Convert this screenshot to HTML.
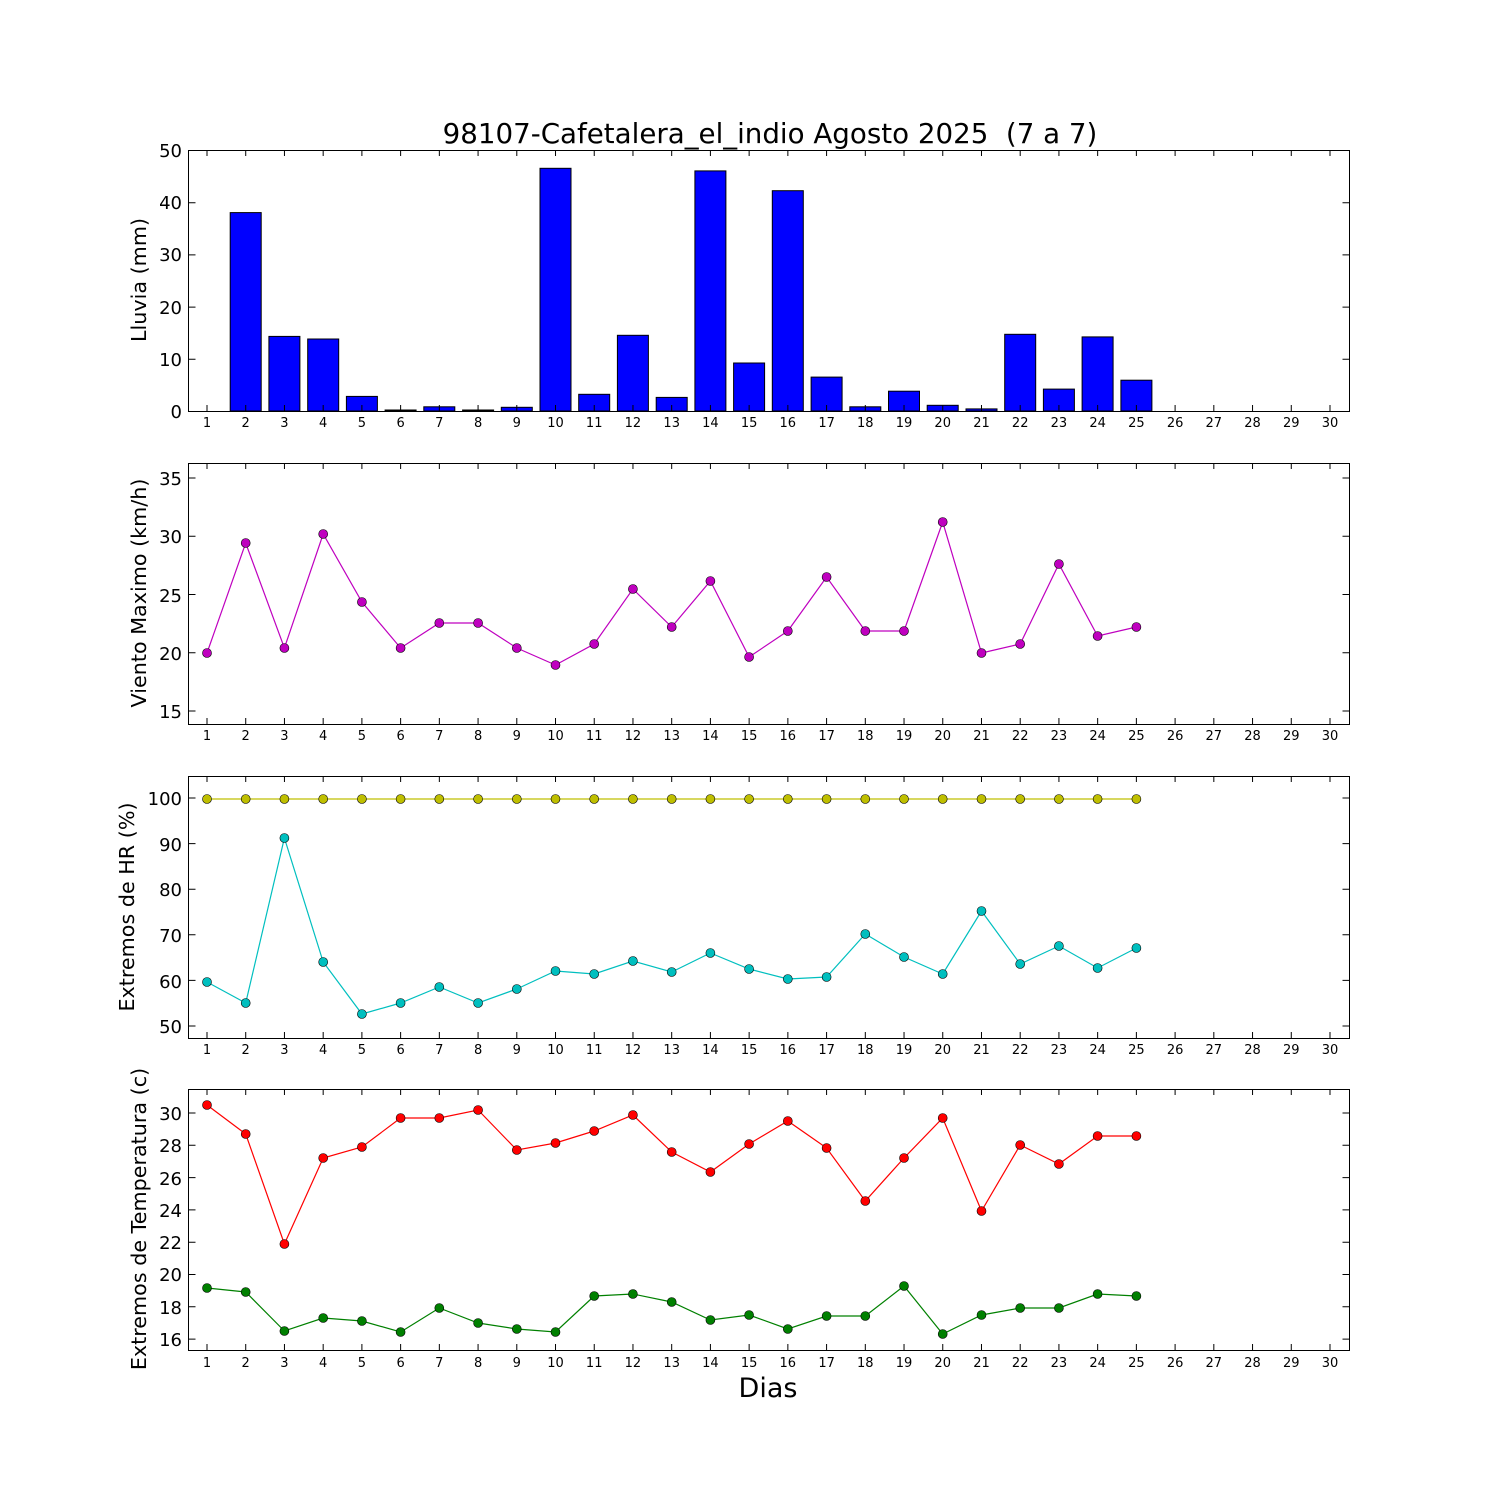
<!DOCTYPE html>
<html><head><meta charset="utf-8"><style>body{margin:0;background:#fff}svg{display:block;font-family:"DejaVu Sans","Liberation Sans",sans-serif}</style></head><body>
<svg width="1500" height="1500" viewBox="0 0 1500 1500" xmlns="http://www.w3.org/2000/svg">
<defs>
<marker id="mm" markerUnits="userSpaceOnUse" markerWidth="12" markerHeight="12" refX="6" refY="6"><circle cx="6" cy="6" r="4.5" fill="#bf00bf" stroke="#000" stroke-width="0.6"/></marker>
<marker id="my" markerUnits="userSpaceOnUse" markerWidth="12" markerHeight="12" refX="6" refY="6"><circle cx="6" cy="6" r="4.5" fill="#bfbf00" stroke="#000" stroke-width="0.6"/></marker>
<marker id="mc" markerUnits="userSpaceOnUse" markerWidth="12" markerHeight="12" refX="6" refY="6"><circle cx="6" cy="6" r="4.5" fill="#00bfbf" stroke="#000" stroke-width="0.6"/></marker>
<marker id="mr" markerUnits="userSpaceOnUse" markerWidth="12" markerHeight="12" refX="6" refY="6"><circle cx="6" cy="6" r="4.5" fill="#ff0000" stroke="#000" stroke-width="0.6"/></marker>
<marker id="mg" markerUnits="userSpaceOnUse" markerWidth="12" markerHeight="12" refX="6" refY="6"><circle cx="6" cy="6" r="4.5" fill="#008000" stroke="#000" stroke-width="0.6"/></marker>
</defs>
<text x="770" y="143" font-size="27.7" text-anchor="middle">98107-Cafetalera_el_indio Agosto 2025 &#160;(7 a 7)</text>

<g fill="#0000ff" stroke="#000" stroke-width="1">
<rect x="191.5" y="411" width="31" height="0"/>
<rect x="230.2" y="212.6" width="31" height="198.4"/>
<rect x="268.9" y="336.4" width="31" height="74.6"/>
<rect x="307.7" y="339" width="31" height="72"/>
<rect x="346.4" y="396.4" width="31" height="14.6"/>
<rect x="385.1" y="410" width="31" height="1"/>
<rect x="423.8" y="406.8" width="31" height="4.2"/>
<rect x="462.6" y="410" width="31" height="1"/>
<rect x="501.3" y="407.3" width="31" height="3.7"/>
<rect x="540" y="168.3" width="31" height="242.7"/>
<rect x="578.7" y="394.3" width="31" height="16.7"/>
<rect x="617.4" y="335.3" width="31" height="75.7"/>
<rect x="656.2" y="397.4" width="31" height="13.6"/>
<rect x="694.9" y="170.9" width="31" height="240.1"/>
<rect x="733.6" y="363" width="31" height="48"/>
<rect x="772.3" y="190.7" width="31" height="220.3"/>
<rect x="811.1" y="377.1" width="31" height="33.9"/>
<rect x="849.8" y="406.8" width="31" height="4.2"/>
<rect x="888.5" y="391.2" width="31" height="19.8"/>
<rect x="927.2" y="405.3" width="31" height="5.7"/>
<rect x="966" y="408.9" width="31" height="2.1"/>
<rect x="1004.7" y="334.3" width="31" height="76.7"/>
<rect x="1043.4" y="389.1" width="31" height="21.9"/>
<rect x="1082.1" y="336.9" width="31" height="74.1"/>
<rect x="1120.9" y="380.2" width="31" height="30.8"/>
</g>

<polyline fill="none" stroke="#bf00bf" stroke-width="1.2" marker-start="url(#mm)" marker-mid="url(#mm)" marker-end="url(#mm)" points="207,653 245.7,543 284.4,648 323.2,534 361.9,602 400.6,648 439.3,623 478.1,623 516.8,648 555.5,665 594.2,644 632.9,589 671.7,627 710.4,581 749.1,657 787.8,631 826.6,577 865.3,631 904,631 942.7,522 981.5,653 1020.2,644 1058.9,564 1097.6,636 1136.4,627"/>

<polyline fill="none" stroke="#bfbf00" stroke-width="1.2" marker-start="url(#my)" marker-mid="url(#my)" marker-end="url(#my)" points="207,799 245.7,799 284.4,799 323.2,799 361.9,799 400.6,799 439.3,799 478.1,799 516.8,799 555.5,799 594.2,799 632.9,799 671.7,799 710.4,799 749.1,799 787.8,799 826.6,799 865.3,799 904,799 942.7,799 981.5,799 1020.2,799 1058.9,799 1097.6,799 1136.4,799"/>
<polyline fill="none" stroke="#00bfbf" stroke-width="1.2" marker-start="url(#mc)" marker-mid="url(#mc)" marker-end="url(#mc)" points="207,982 245.7,1003 284.4,838 323.2,962 361.9,1014 400.6,1003 439.3,987 478.1,1003 516.8,989 555.5,971 594.2,974 632.9,961 671.7,972 710.4,953 749.1,969 787.8,979 826.6,977 865.3,934 904,957 942.7,974 981.5,911 1020.2,964 1058.9,946 1097.6,968 1136.4,948"/>

<polyline fill="none" stroke="#ff0000" stroke-width="1.2" marker-start="url(#mr)" marker-mid="url(#mr)" marker-end="url(#mr)" points="207,1105 245.7,1134 284.4,1244 323.2,1158 361.9,1147 400.6,1118 439.3,1118 478.1,1110 516.8,1150 555.5,1143 594.2,1131 632.9,1115 671.7,1152 710.4,1172 749.1,1144 787.8,1121 826.6,1148 865.3,1201 904,1158 942.7,1118 981.5,1211 1020.2,1145 1058.9,1164 1097.6,1136 1136.4,1136"/>
<polyline fill="none" stroke="#008000" stroke-width="1.2" marker-start="url(#mg)" marker-mid="url(#mg)" marker-end="url(#mg)" points="207,1288 245.7,1292 284.4,1331 323.2,1318 361.9,1321 400.6,1332 439.3,1308 478.1,1323 516.8,1329 555.5,1332 594.2,1296 632.9,1294 671.7,1302 710.4,1320 749.1,1315 787.8,1329 826.6,1316 865.3,1316 904,1286 942.7,1334 981.5,1315 1020.2,1308 1058.9,1308 1097.6,1294 1136.4,1296"/>

<g fill="none" stroke="#000">
<rect x="188.5" y="150.5" width="1161" height="261"/>
<rect x="188.5" y="463.5" width="1161" height="261"/>
<rect x="188.5" y="776.5" width="1161" height="262"/>
<rect x="188.5" y="1089.5" width="1161" height="261"/>
<g stroke-width="6" stroke-dasharray="1 37.724">
<line x1="206.5" y1="408" x2="1331" y2="408"/><line x1="206.5" y1="153" x2="1331" y2="153"/>
<line x1="206.5" y1="721" x2="1331" y2="721"/><line x1="206.5" y1="466" x2="1331" y2="466"/>
<line x1="206.5" y1="1035" x2="1331" y2="1035"/><line x1="206.5" y1="779" x2="1331" y2="779"/>
<line x1="206.5" y1="1347" x2="1331" y2="1347"/><line x1="206.5" y1="1092" x2="1331" y2="1092"/>
</g>
<g stroke-width="7">
<line x1="192" y1="150" x2="192" y2="412" stroke-dasharray="1 51.2"/><line x1="1346" y1="150" x2="1346" y2="412" stroke-dasharray="1 51.2"/>
<line x1="192" y1="477.5" x2="192" y2="712" stroke-dasharray="1 57.25"/><line x1="1346" y1="477.5" x2="1346" y2="712" stroke-dasharray="1 57.25"/>
<line x1="192" y1="797.5" x2="192" y2="1027" stroke-dasharray="1 44.6"/><line x1="1346" y1="797.5" x2="1346" y2="1027" stroke-dasharray="1 44.6"/>
<line x1="192" y1="1112.5" x2="192" y2="1340" stroke-dasharray="1 31.3"/><line x1="1346" y1="1112.5" x2="1346" y2="1340" stroke-dasharray="1 31.3"/>
</g>
</g>

<g font-size="18" text-anchor="end">
<text x="182" y="418">0</text><text x="182" y="366">10</text><text x="182" y="314">20</text><text x="182" y="261">30</text><text x="182" y="209">40</text><text x="182" y="157">50</text>
<text x="182" y="718">15</text><text x="182" y="660">20</text><text x="182" y="602">25</text><text x="182" y="543">30</text><text x="182" y="485">35</text>
<text x="182" y="1033">50</text><text x="182" y="988">60</text><text x="182" y="942">70</text><text x="182" y="896">80</text><text x="182" y="851">90</text><text x="182" y="805">100</text>
<text x="182" y="1346">16</text><text x="182" y="1314">18</text><text x="182" y="1281">20</text><text x="182" y="1249">22</text><text x="182" y="1217">24</text><text x="182" y="1185">26</text><text x="182" y="1152">28</text><text x="182" y="1120">30</text>
</g>

<g font-size="13" text-anchor="middle">
<text y="427"><tspan x="207">1</tspan><tspan x="245.7">2</tspan><tspan x="284.4">3</tspan><tspan x="323.2">4</tspan><tspan x="361.9">5</tspan><tspan x="400.6">6</tspan><tspan x="439.3">7</tspan><tspan x="478.1">8</tspan><tspan x="516.8">9</tspan><tspan x="555.5">10</tspan><tspan x="594.2">11</tspan><tspan x="632.9">12</tspan><tspan x="671.7">13</tspan><tspan x="710.4">14</tspan><tspan x="749.1">15</tspan><tspan x="787.8">16</tspan><tspan x="826.6">17</tspan><tspan x="865.3">18</tspan><tspan x="904">19</tspan><tspan x="942.7">20</tspan><tspan x="981.5">21</tspan><tspan x="1020.2">22</tspan><tspan x="1058.9">23</tspan><tspan x="1097.6">24</tspan><tspan x="1136.4">25</tspan><tspan x="1175.1">26</tspan><tspan x="1213.8">27</tspan><tspan x="1252.5">28</tspan><tspan x="1291.3">29</tspan><tspan x="1330">30</tspan></text>
<text y="740"><tspan x="207">1</tspan><tspan x="245.7">2</tspan><tspan x="284.4">3</tspan><tspan x="323.2">4</tspan><tspan x="361.9">5</tspan><tspan x="400.6">6</tspan><tspan x="439.3">7</tspan><tspan x="478.1">8</tspan><tspan x="516.8">9</tspan><tspan x="555.5">10</tspan><tspan x="594.2">11</tspan><tspan x="632.9">12</tspan><tspan x="671.7">13</tspan><tspan x="710.4">14</tspan><tspan x="749.1">15</tspan><tspan x="787.8">16</tspan><tspan x="826.6">17</tspan><tspan x="865.3">18</tspan><tspan x="904">19</tspan><tspan x="942.7">20</tspan><tspan x="981.5">21</tspan><tspan x="1020.2">22</tspan><tspan x="1058.9">23</tspan><tspan x="1097.6">24</tspan><tspan x="1136.4">25</tspan><tspan x="1175.1">26</tspan><tspan x="1213.8">27</tspan><tspan x="1252.5">28</tspan><tspan x="1291.3">29</tspan><tspan x="1330">30</tspan></text>
<text y="1054"><tspan x="207">1</tspan><tspan x="245.7">2</tspan><tspan x="284.4">3</tspan><tspan x="323.2">4</tspan><tspan x="361.9">5</tspan><tspan x="400.6">6</tspan><tspan x="439.3">7</tspan><tspan x="478.1">8</tspan><tspan x="516.8">9</tspan><tspan x="555.5">10</tspan><tspan x="594.2">11</tspan><tspan x="632.9">12</tspan><tspan x="671.7">13</tspan><tspan x="710.4">14</tspan><tspan x="749.1">15</tspan><tspan x="787.8">16</tspan><tspan x="826.6">17</tspan><tspan x="865.3">18</tspan><tspan x="904">19</tspan><tspan x="942.7">20</tspan><tspan x="981.5">21</tspan><tspan x="1020.2">22</tspan><tspan x="1058.9">23</tspan><tspan x="1097.6">24</tspan><tspan x="1136.4">25</tspan><tspan x="1175.1">26</tspan><tspan x="1213.8">27</tspan><tspan x="1252.5">28</tspan><tspan x="1291.3">29</tspan><tspan x="1330">30</tspan></text>
<text y="1367"><tspan x="207">1</tspan><tspan x="245.7">2</tspan><tspan x="284.4">3</tspan><tspan x="323.2">4</tspan><tspan x="361.9">5</tspan><tspan x="400.6">6</tspan><tspan x="439.3">7</tspan><tspan x="478.1">8</tspan><tspan x="516.8">9</tspan><tspan x="555.5">10</tspan><tspan x="594.2">11</tspan><tspan x="632.9">12</tspan><tspan x="671.7">13</tspan><tspan x="710.4">14</tspan><tspan x="749.1">15</tspan><tspan x="787.8">16</tspan><tspan x="826.6">17</tspan><tspan x="865.3">18</tspan><tspan x="904">19</tspan><tspan x="942.7">20</tspan><tspan x="981.5">21</tspan><tspan x="1020.2">22</tspan><tspan x="1058.9">23</tspan><tspan x="1097.6">24</tspan><tspan x="1136.4">25</tspan><tspan x="1175.1">26</tspan><tspan x="1213.8">27</tspan><tspan x="1252.5">28</tspan><tspan x="1291.3">29</tspan><tspan x="1330">30</tspan></text>
</g>

<g font-size="20.7" text-anchor="middle">
<text transform="translate(146 280) rotate(-90)">Lluvia (mm)</text>
<text transform="translate(146 593) rotate(-90)">Viento Maximo (km/h)</text>
<text transform="translate(134 907) rotate(-90)">Extremos de HR (%)</text>
<text transform="translate(146 1219) rotate(-90)">Extremos de Temperatura (c)</text>
</g>
<text x="768" y="1397" font-size="27" text-anchor="middle">Dias</text>
</svg>
</body></html>
